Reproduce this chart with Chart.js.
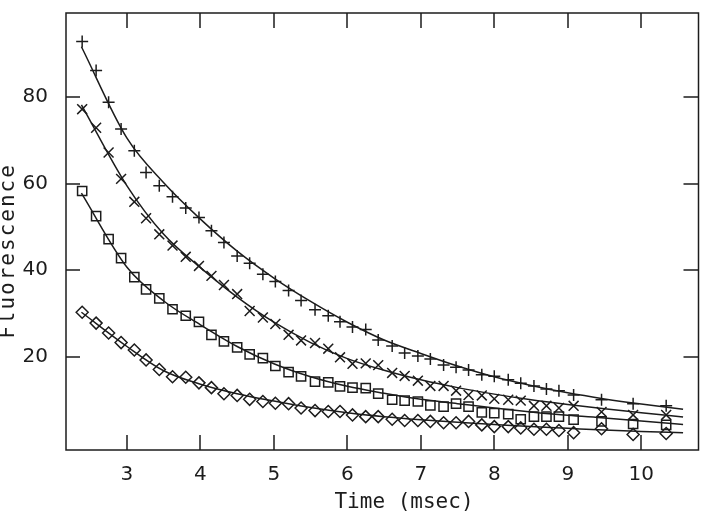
<!DOCTYPE html>
<html>
<head>
<meta charset="utf-8">
<script src="https://cdn.jsdelivr.net/npm/chart.js@4.4.1/dist/chart.umd.min.js"></script>
<style>
  html, body { margin: 0; padding: 0; background: #fff; }
  #wrap { width: 707px; height: 518px; position: relative; }
</style>
</head>
<body>
<div id="wrap"><canvas id="fluorChart"></canvas></div>
<script>
// sample times (msec), the same for all four data sets
const times = [2.39, 2.58, 2.75, 2.92, 3.10, 3.26, 3.44, 3.62, 3.80, 3.98, 4.15, 4.32, 4.50, 4.67,
  4.85, 5.02, 5.20, 5.37, 5.56, 5.74, 5.90, 6.07, 6.25, 6.42, 6.61, 6.78, 6.96, 7.13, 7.31, 7.48,
  7.65, 7.83, 8.00, 8.19, 8.36, 8.54, 8.71, 8.88, 9.08, 9.46, 9.89, 10.34];

// measured fluorescence, one array per marker
const plusData = [92.8, 86.1, 78.8, 72.6, 67.6, 62.6, 59.5, 57.0, 54.4, 52.2, 49.1, 46.4, 43.3, 41.6,
  39.1, 37.4, 35.3, 33.0, 30.9, 29.5, 28.1, 26.9, 26.3, 23.9, 22.5, 20.9, 20.2, 19.5, 18.1, 17.6,
  17.0, 15.9, 15.5, 14.7, 13.9, 13.3, 12.6, 12.2, 11.2, 10.1, 9.2, 8.7];
const crossData = [77.2, 72.9, 67.2, 61.1, 55.8, 52.0, 48.3, 45.7, 43.1, 41.0, 38.7, 36.6, 34.5, 30.6,
  29.1, 27.6, 25.1, 23.8, 23.2, 21.9, 19.9, 18.4, 18.5, 18.1, 16.3, 15.6, 14.5, 13.3, 13.3, 12.2,
  11.2, 11.1, 10.3, 10.1, 9.9, 8.7, 8.7, 8.2, 8.7, 7.3, 6.6, 6.6];
const squareData = [58.3, 52.5, 47.2, 42.8, 38.4, 35.6, 33.5, 31.0, 29.5, 28.1, 25.1, 23.6, 22.2, 20.6,
  19.7, 17.9, 16.5, 15.5, 14.3, 14.1, 13.2, 12.9, 12.8, 11.5, 10.1, 9.9, 9.7, 8.8, 8.5, 9.2,
  8.5, 7.2, 7.0, 6.8, 5.6, 6.2, 6.2, 6.2, 5.5, 5.1, 4.5, 4.3];
const diamondData = [30.3, 27.8, 25.5, 23.3, 21.6, 19.3, 17.1, 15.4, 15.3, 14.0, 12.9, 11.5, 11.1, 10.2,
  9.7, 9.3, 9.2, 8.2, 7.6, 7.4, 7.4, 6.6, 6.2, 6.2, 5.6, 5.3, 5.3, 5.1, 4.8, 4.8,
  5.1, 4.3, 3.9, 3.9, 3.6, 3.3, 3.3, 3.0, 2.5, 3.4, 2.1, 2.3];

// fitted curves at coarser times
const fitTimes = [2.38, 3, 3.5, 4, 4.5, 5, 5.5, 6, 6.5, 7, 7.5, 8, 8.5, 9, 9.5, 10, 10.57];
const plusFit = [91.6, 70.5, 60.2, 51.8, 44.4, 38.2, 32.8, 28.0, 23.9, 20.8, 17.9, 15.4, 13.4, 11.7, 10.3, 9.1, 7.9];
const crossFit = [78.2, 59.5, 48.3, 40.6, 33.8, 28.0, 23.3, 19.6, 16.9, 14.7, 12.9, 11.4, 10.1, 9.0, 8.0, 7.1, 6.1];
const squareFit = [57.8, 40.7, 32.9, 27.4, 22.4, 18.4, 15.4, 13.2, 11.6, 10.2, 9.2, 8.2, 7.3, 6.5, 5.9, 5.2, 4.4];
const diamondFit = [30.3, 22.4, 16.8, 13.7, 11.5, 9.8, 8.3, 7.1, 6.2, 5.5, 4.9, 4.4, 3.9, 3.5, 3.1, 2.8, 2.5];

const xTicks = [3, 4, 5, 6, 7, 8, 9, 10];
const yTicks = [20, 40, 60, 80];
const xTitle = 'Time (msec)';
const yTitle = 'Fluorescence';

const ink = '#1c1c1c';

function pts(xs, ys) {
  return xs.map((t, i) => ({ x: t, y: ys[i] }));
}

function markers(values, style, radius) {
  return {
    data: pts(times, values),
    showLine: false,
    pointStyle: style,
    pointRadius: radius,
    pointBorderColor: ink,
    pointBackgroundColor: 'rgba(0,0,0,0)',
    pointBorderWidth: 1.5
  };
}

function fitLine(values) {
  return {
    data: pts(fitTimes, values),
    showLine: true,
    borderColor: ink,
    borderWidth: 1.5,
    pointRadius: 0,
    cubicInterpolationMode: 'monotone',
    fill: false
  };
}

// box frame with inward ticks on all four sides, plus the axis titles
const frameTicks = {
  id: 'frameTicks',
  afterDraw(chart) {
    const ctx = chart.ctx;
    const a = chart.chartArea;
    const xs = chart.scales.x;
    const ys = chart.scales.y;
    ctx.save();
    ctx.fillStyle = ink;
    ctx.strokeStyle = ink;
    ctx.lineWidth = 1.5;
    ctx.strokeRect(a.left, a.top, a.right - a.left, a.bottom - a.top);
    for (const v of xTicks) {
      const px = Math.round(xs.getPixelForValue(v));
      ctx.fillRect(px - 0.75, a.bottom - 15, 1.5, 15);
      ctx.fillRect(px - 0.75, a.top, 1.5, 15);
    }
    for (const v of yTicks) {
      const py = Math.round(ys.getPixelForValue(v));
      ctx.fillRect(a.left, py - 0.75, 14, 1.5);
      ctx.fillRect(a.right - 15, py - 0.75, 15, 1.5);
    }

    ctx.font = '21px "DejaVu Sans Mono"';
    ctx.textAlign = 'center';
    ctx.textBaseline = 'middle';
    ctx.fillText(xTitle, 404, 503);
    ctx.translate(9, 251);
    ctx.rotate(-Math.PI / 2);
    ctx.letterSpacing = '2px';
    ctx.fillText(yTitle, 0, 0);
    ctx.restore();
  }
};

new Chart(document.getElementById('fluorChart'), {
  type: 'scatter',
  data: {
    datasets: [
      markers(plusData, 'cross', 6),
      markers(crossData, 'crossRot', 7),
      markers(squareData, 'rect', 6.5),
      markers(diamondData, 'rectRot', 6),
      fitLine(plusFit),
      fitLine(crossFit),
      fitLine(squareFit),
      fitLine(diamondFit)
    ]
  },
  options: {
    responsive: true,
    maintainAspectRatio: false,
    animation: false,
    layout: { padding: { left: 0, top: 13, right: 7, bottom: 0 } },
    plugins: { legend: { display: false }, tooltip: { enabled: false } },
    scales: {
      x: {
        type: 'linear',
        min: 2.17,
        max: 10.78,
        afterBuildTicks: s => { s.ticks = xTicks.map(v => ({ value: v })); },
        afterFit: s => { s.height = 68; s.paddingLeft = 0; s.paddingRight = 0; },
        grid: { display: false },
        border: { display: false },
        ticks: {
          color: ink,
          font: { family: 'DejaVu Sans', size: 20 },
          padding: 5,
          maxRotation: 0,
          callback: v => String(v)
        }
      },
      y: {
        type: 'linear',
        min: -1.5,
        max: 99.4,
        afterBuildTicks: s => { s.ticks = yTicks.map(v => ({ value: v })); },
        afterFit: s => { s.width = 66; s.paddingTop = 0; s.paddingBottom = 0; },
        grid: { display: false },
        border: { display: false },
        ticks: {
          color: ink,
          font: { family: 'DejaVu Sans', size: 20 },
          padding: 10,
          callback: v => String(v)
        }
      }
    }
  },
  plugins: [frameTicks]
});
</script>
</body>
</html>
